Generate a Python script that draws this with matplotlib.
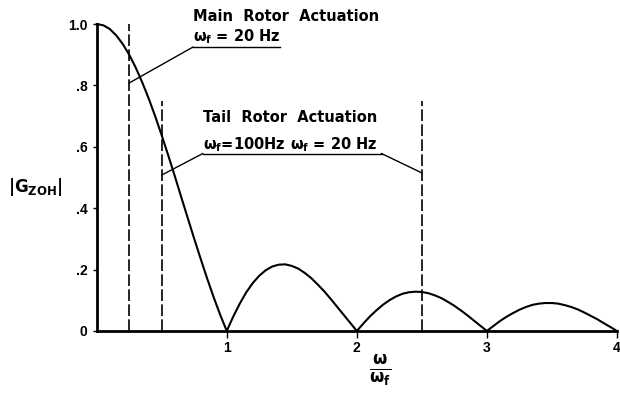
import matplotlib.pyplot as plt

# |G_ZOH|, every 0.05 in w/w_f
w_ratio = [i * 0.05 for i in range(81)]
g_zoh = [1.000, 0.996, 0.984, 0.963, 0.935, 0.900, 0.858, 0.810, 0.757, 0.699,
         0.637, 0.572, 0.505, 0.436, 0.368, 0.300, 0.234, 0.170, 0.109, 0.052,
         0.000, 0.047, 0.089, 0.126, 0.156, 0.180, 0.198, 0.210, 0.216, 0.217,
         0.212, 0.203, 0.189, 0.172, 0.151, 0.129, 0.104, 0.078, 0.052, 0.026,
         0.000, 0.024, 0.047, 0.067, 0.085, 0.100, 0.112, 0.121, 0.126, 0.128,
         0.127, 0.123, 0.116, 0.107, 0.095, 0.082, 0.067, 0.051, 0.034, 0.017,
         0.000, 0.016, 0.032, 0.046, 0.058, 0.069, 0.078, 0.085, 0.089, 0.091,
         0.091, 0.089, 0.084, 0.078, 0.070, 0.060, 0.049, 0.038, 0.025, 0.013,
         0.000]

# dashed actuation lines: position and top
act_x = [0.25, 0.5, 2.5]
act_top = [1.0, 0.75, 0.75]

yticks = [0, 0.2, 0.4, 0.6, 0.8, 1.0]
ylabels = ['0', '.2', '.4', '.6', '.8', '1.0']
xticks = [1, 2, 3, 4]

plt.rcParams['font.family'] = ['Liberation Sans', 'DejaVu Sans']
plt.rcParams['font.weight'] = 'bold'
plt.rcParams['mathtext.fontset'] = 'dejavusans'

fig = plt.figure(figsize=(6.2, 3.94), dpi=100)
ax = fig.add_axes([0.156, 0.16, 0.839, 0.779])

ax.plot(w_ratio, g_zoh, color='black', lw=1.5, clip_on=False)
for x, top in zip(act_x, act_top):
    ax.plot([x, x], [0, top], color='black', lw=1.2, ls=(0, (7, 2)), clip_on=False)

ax.set_xlim(0, 4)
ax.set_ylim(0, 1.0)
ax.spines['top'].set_visible(False)
ax.spines['right'].set_visible(False)
ax.spines['left'].set_linewidth(2)
ax.spines['bottom'].set_linewidth(2)
ax.set_yticks(yticks)
ax.set_yticklabels(ylabels, fontsize=10, fontweight='bold')
ax.set_xticks(xticks)
ax.set_xticklabels([str(t) for t in xticks], fontsize=10, fontweight='bold')
ax.tick_params(axis='y', direction='out', length=3, width=1)
ax.tick_params(axis='x', direction='out', length=5, width=1, pad=2)

# annotations
ann = dict(fontsize=10.5, fontweight='bold', family='DejaVu Sans', va='center', ha='left')
ax.text(0.74, 1.026, 'Main  Rotor  Actuation', clip_on=False, **ann)
ax.text(0.74, 0.958, r'$\mathbf{\omega_f}$ = 20 Hz', **ann)
ax.plot([0.74, 1.41], [0.925, 0.925], color='black', lw=1)
ax.plot([0.74, 0.25], [0.925, 0.808], color='black', lw=1)

ax.text(0.815, 0.697, 'Tail  Rotor  Actuation', **ann)
ax.text(0.815, 0.608, r'$\mathbf{\omega_f}$=100Hz', **ann)
ax.text(1.485, 0.608, r'$\mathbf{\omega_f}$ = 20 Hz', **ann)
ax.plot([0.815, 2.19], [0.578, 0.578], color='black', lw=1)
ax.plot([0.815, 0.5], [0.578, 0.508], color='black', lw=1)
ax.plot([2.19, 2.5], [0.578, 0.515], color='black', lw=1)

fig.text(0.057, 0.525, r'$|\mathbf{G_{ZOH}}|$', fontsize=12, ha='center', va='center')
fig.text(0.613, 0.06, r'$\mathbf{\frac{\omega}{\omega_f}}$', fontsize=17, ha='center', va='center')

fig.savefig('out.png', dpi=100)
